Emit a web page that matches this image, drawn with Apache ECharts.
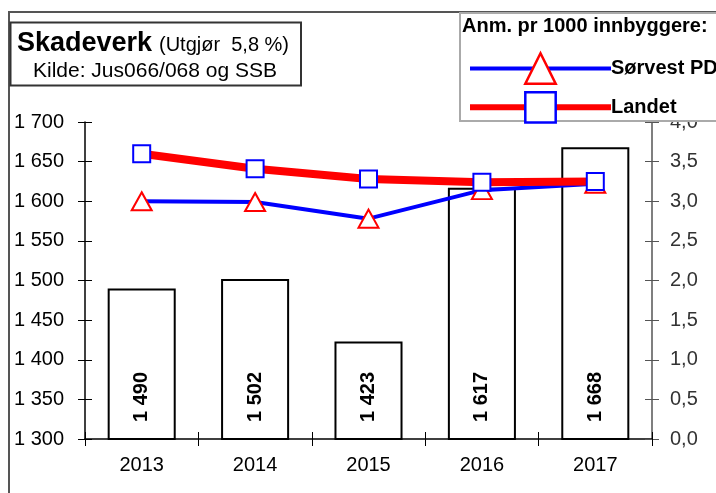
<!DOCTYPE html>
<html>
<head>
<meta charset="utf-8">
<script src="https://cdn.jsdelivr.net/npm/echarts@6/dist/echarts.min.js"></script>
<style>
html,body{margin:0;padding:0;background:#fff;}
#chart{width:716px;height:493px;}
</style>
</head>
<body>
<div id="chart"></div>
<script>
const categories = ['2013', '2014', '2015', '2016', '2017'];
const anmeldelser = [1490, 1502, 1423, 1617, 1668];
const sorvestPD = [3.00, 2.99, 2.78, 3.14, 3.22];
const landet = [3.60, 3.41, 3.28, 3.24, 3.25];
const leftAxisRange = [1300, 1700, 50];
const rightAxisRange = [0, 4, 0.5];
const seriesNames = ['Sørvest PD', 'Landet'];
const titleMain = 'Skadeverk';
const titleNote = '(Utgjør  5,8 %)';
const titleSource = 'Kilde: Jus066/068 og SSB';
const legendTitle = 'Anm. pr 1000 innbyggere:';

const FONT = "'Liberation Sans', Arial, sans-serif";
const thousands = v => String(v).replace(/\B(?=(\d{3})+(?!\d))/g, ' ');
const comma1 = v => v.toFixed(1).replace('.', ',');

const chart = echarts.init(document.getElementById('chart'), null, {renderer: 'canvas'});

const gridPos = {left: 85, right: 64, top: 122, bottom: 54};

chart.setOption({
  animation: false,
  backgroundColor: '#fff',
  textStyle: {fontFamily: FONT},
  grid: Object.assign({containLabel: false}, gridPos),
  legend: {
    data: [
      {name: seriesNames[0], lineStyle: {width: 4, color: '#0000ff'}, itemStyle: {borderWidth: 2.5}},
      {name: seriesNames[1], lineStyle: {width: 6, color: '#ff0000'}, itemStyle: {borderWidth: 2.5}}
    ],
    orient: 'vertical',
    left: 462,
    top: 47,
    itemWidth: 141,
    itemHeight: 38,
    itemGap: 6,
    z: 60,
    selectedMode: false,
    textStyle: {fontFamily: FONT, fontSize: 20, fontWeight: 'bold', color: '#000', padding: [0, 0, 0, -5]}
  },
  xAxis: [
    {
      type: 'category', data: categories, position: 'bottom',
      axisLine: {lineStyle: {color: '#000', width: 1.5}},
      axisTick: {show: true, length: 7, lineStyle: {color: '#000'}},
      axisLabel: {fontFamily: FONT, fontSize: 20, color: '#000', margin: 16},
      splitLine: {show: false}
    },
    {
      type: 'category', data: categories, position: 'bottom',
      axisLine: {show: false},
      axisTick: {show: true, inside: true, length: 7, lineStyle: {color: '#000'}},
      axisLabel: {show: false},
      splitLine: {show: false}
    }
  ],
  yAxis: [
    {
      type: 'value', position: 'left',
      min: leftAxisRange[0], max: leftAxisRange[1], interval: leftAxisRange[2],
      axisLine: {show: true, lineStyle: {color: '#000', width: 1.5}},
      axisTick: {show: true, length: 7, lineStyle: {color: '#000'}},
      axisLabel: {fontFamily: FONT, fontSize: 20, color: '#000', margin: 21, formatter: v => thousands(v)},
      splitLine: {show: false}
    },
    {
      type: 'value', position: 'right',
      min: rightAxisRange[0], max: rightAxisRange[1], interval: rightAxisRange[2],
      axisLine: {show: true, lineStyle: {color: '#555', width: 1.5}},
      axisTick: {show: true, length: 7, lineStyle: {color: '#555'}},
      axisLabel: {fontFamily: FONT, fontSize: 20, color: '#333', margin: 18, formatter: v => comma1(v)},
      splitLine: {show: false}
    },
    {
      type: 'value', position: 'left',
      min: leftAxisRange[0], max: leftAxisRange[1], interval: leftAxisRange[2],
      axisLine: {show: false},
      axisTick: {show: true, inside: true, length: 7, lineStyle: {color: '#000'}},
      axisLabel: {show: false},
      splitLine: {show: false}
    },
    {
      type: 'value', position: 'right',
      min: rightAxisRange[0], max: rightAxisRange[1], interval: rightAxisRange[2],
      axisLine: {show: false},
      axisTick: {show: true, inside: true, length: 7, lineStyle: {color: '#555'}},
      axisLabel: {show: false},
      splitLine: {show: false}
    }
  ],
  series: [
    {
      type: 'bar', name: 'Anmeldelser', xAxisIndex: 0, yAxisIndex: 0,
      data: anmeldelser, barWidth: '60%',
      itemStyle: {color: '#fff', borderColor: '#000', borderWidth: 2},
      label: {
        show: true, position: 'insideBottom', distance: 18, rotate: 90,
        align: 'left', verticalAlign: 'middle',
        fontFamily: FONT, fontSize: 20, fontWeight: 'bold', color: '#000',
        formatter: p => thousands(p.value)
      },
      z: 2
    },
    {
      type: 'line', name: seriesNames[0], xAxisIndex: 0, yAxisIndex: 1,
      data: sorvestPD,
      symbol: 'triangle', symbolSize: [20, 18], showSymbol: true,
      itemStyle: {color: '#fff', borderColor: '#ff0000', borderWidth: 2},
      lineStyle: {color: '#0000ff', width: 4},
      z: 3
    },
    {
      type: 'line', name: seriesNames[1], xAxisIndex: 0, yAxisIndex: 1,
      data: landet,
      symbol: 'rect', symbolSize: 17, showSymbol: true,
      itemStyle: {color: '#fff', borderColor: '#0000ff', borderWidth: 2},
      lineStyle: {color: '#ff0000', width: 8},
      z: 4
    }
  ],
  graphic: [
    {type: 'rect', z: 1, silent: true,
     shape: {x: 9, y: 12, width: 740, height: 520},
     style: {fill: 'none', stroke: '#555', lineWidth: 2}},
    {type: 'rect', z: 50, silent: true,
     shape: {x: 10.5, y: 22.5, width: 290.5, height: 63},
     style: {fill: '#fff', stroke: '#333', lineWidth: 2}},
    {type: 'text', z: 51, silent: true,
     style: {text: titleMain, x: 17, y: 44, align: 'left', verticalAlign: 'middle', fill: '#000',
             font: "bold 27px 'Liberation Sans', Arial, sans-serif"}},
    {type: 'text', z: 51, silent: true,
     style: {text: titleNote, x: 159, y: 45, align: 'left', verticalAlign: 'middle', fill: '#000',
             font: "20px 'Liberation Sans', Arial, sans-serif"}},
    {type: 'text', z: 51, silent: true,
     style: {text: titleSource, x: 155, y: 71, align: 'center', verticalAlign: 'middle', fill: '#000',
             font: "21px 'Liberation Sans', Arial, sans-serif"}},
    {type: 'rect', z: 50, silent: true,
     shape: {x: 460, y: 13, width: 300, height: 108},
     style: {fill: '#fff', stroke: '#aaa', lineWidth: 2}},
    {type: 'text', z: 51, silent: true,
     style: {text: legendTitle, x: 462, y: 26, align: 'left', verticalAlign: 'middle', fill: '#000',
             font: "bold 20px 'Liberation Sans', Arial, sans-serif"}}
  ]
});
</script>
</body>
</html>
